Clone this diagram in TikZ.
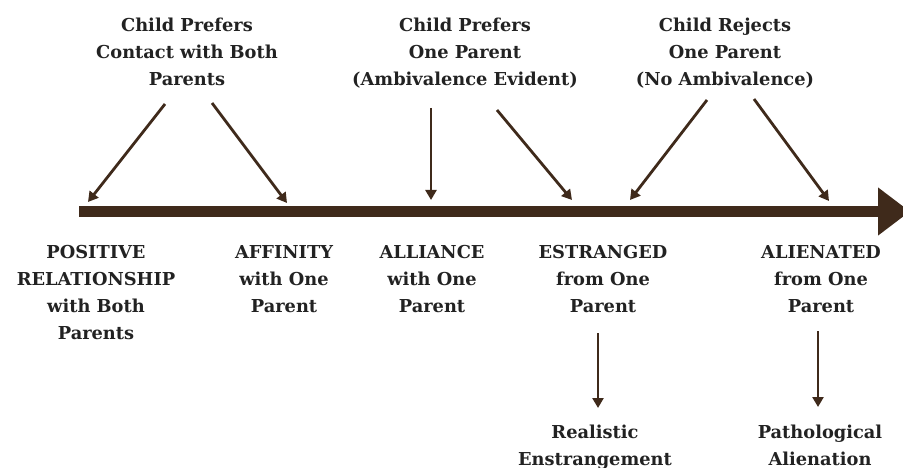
\documentclass[tikz,border=0pt]{standalone}
\usepackage{fontspec}
\setmainfont{DejaVu Serif}
\usetikzlibrary{arrows.meta}
\definecolor{brn}{HTML}{3F2A1B}
\definecolor{txt}{HTML}{222222}
\tikzset{
  lbl/.style={align=center, inner sep=0pt, text depth=0pt, text=txt, font=\bfseries\fontsize{17.8}{27}\selectfont},
  ptr/.style={draw=brn, line width=2.8pt, -{Triangle[length=10pt,width=11pt]}},
}
\begin{document}
\begin{tikzpicture}[x=1pt,y=-1pt]
\useasboundingbox (0,0) rectangle (903,468);
% main axis
\coordinate (axs) at (79,211.5);
\coordinate (axe) at (910,211.5);
\draw[draw=brn, line width=11pt, -{Triangle[length=32pt,width=46pt]}] (axs) -- (axe);
% top labels
\node[lbl] (t1) at (187,52) {Child Prefers\\Contact with Both\\Parents};
\node[lbl] (t2) at (465,52) {Child Prefers\\One Parent\\(Ambivalence Evident)};
\node[lbl] (t3) at (725,52) {Child Rejects\\One Parent\\(No Ambivalence)};
% bottom labels
\node[lbl] (b1) at (96,292.5) {POSITIVE\\RELATIONSHIP\\with Both\\Parents};
\node[lbl] (b2) at (284,279) {AFFINITY\\with One\\Parent};
\node[lbl] (b3) at (432,279) {ALLIANCE\\with One\\Parent};
\node[lbl] (b4) at (603,279) {ESTRANGED\\from One\\Parent};
\node[lbl] (b5) at (821,279) {ALIENATED\\from One\\Parent};
\node[lbl] (r1) at (595,445) {Realistic\\Enstrangement};
\node[lbl] (r2) at (820,445) {Pathological\\Alienation};
% arrow end points
\coordinate (a1s) at (165,104); \coordinate (a1e) at (88,202);
\coordinate (a2s) at (212,103); \coordinate (a2e) at (287,203);
\coordinate (a3s) at (431,108); \coordinate (a3e) at (431,200);
\coordinate (a4s) at (497,110); \coordinate (a4e) at (572,200);
\coordinate (a5s) at (707,100); \coordinate (a5e) at (630,200);
\coordinate (a6s) at (754,99);  \coordinate (a6e) at (829,201);
\coordinate (d1s) at (598,333); \coordinate (d1e) at (598,408);
\coordinate (d2s) at (818,331); \coordinate (d2e) at (818,407);
\draw[ptr] (a1s) -- (a1e);
\draw[ptr] (a2s) -- (a2e);
\draw[ptr] (a3s) -- (a3e);
\draw[ptr] (a4s) -- (a4e);
\draw[ptr] (a5s) -- (a5e);
\draw[ptr] (a6s) -- (a6e);
\draw[ptr] (d1s) -- (d1e);
\draw[ptr] (d2s) -- (d2e);
\end{tikzpicture}
\end{document}
